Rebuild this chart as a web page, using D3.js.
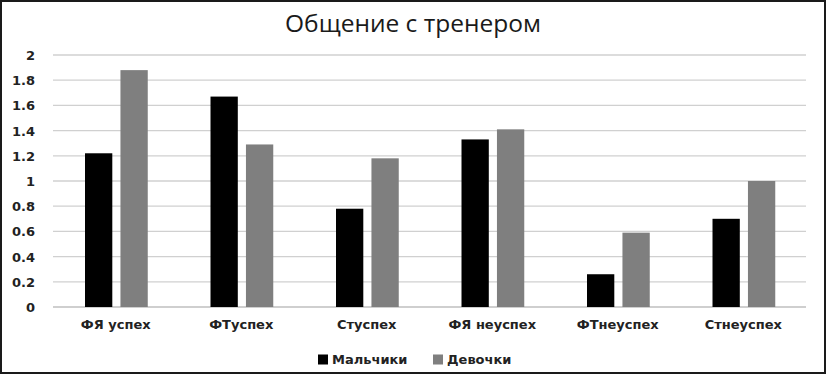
<!DOCTYPE html>
<html>
<head>
<meta charset="utf-8">
<script src="https://cdn.jsdelivr.net/npm/d3@7"></script>
<style>
  body { margin: 0; background: #fff; }
  svg { display: block; font-family: "DejaVu Sans", sans-serif; }
</style>
</head>
<body>
<div id="vis"></div>
<script>
const categories = ["ФЯ успех", "ФТуспех", "Стуспех", "ФЯ неуспех", "ФТнеуспех", "Стнеуспех"];
const seriesNames = ["Мальчики", "Девочки"];
const boys = [1.22, 1.67, 0.78, 1.33, 0.26, 0.70];
const girls = [1.88, 1.29, 1.18, 1.41, 0.59, 1.00];
const yTicks = [0, 0.2, 0.4, 0.6, 0.8, 1, 1.2, 1.4, 1.6, 1.8, 2];
const colors = ["#000000", "#7f7f7f"];

const WIDTH = 828;
const HEIGHT = 376;
const MARGINS = { TOP: 55, RIGHT: 22, BOTTOM: 69, LEFT: 53 };

const svg = d3.select("#vis").append("svg")
  .attr("width", WIDTH)
  .attr("height", HEIGHT);

svg.append("rect")
  .attr("x", 1).attr("y", 1)
  .attr("width", WIDTH - 4).attr("height", HEIGHT - 4)
  .attr("fill", "#fff")
  .attr("stroke", "#1a1a1a")
  .attr("stroke-width", 2);

const width = WIDTH - MARGINS.LEFT - MARGINS.RIGHT;
const height = HEIGHT - MARGINS.TOP - MARGINS.BOTTOM;

const g = svg.append("g")
  .attr("transform", `translate(${MARGINS.LEFT}, ${MARGINS.TOP})`);

const escalaX = d3.scaleBand()
  .domain(categories)
  .range([0, width]);

const escalaSerie = d3.scaleBand()
  .domain(seriesNames)
  .range([escalaX.bandwidth() * 0.255, escalaX.bandwidth() * 0.755])
  .paddingInner(0.23);

const escalaY = d3.scaleLinear()
  .domain([0, 2])
  .range([height, 0]);

// lineas de grilla
g.append("g")
  .selectAll("line")
  .data(yTicks)
  .join("line")
  .attr("x1", 0)
  .attr("x2", width)
  .attr("y1", d => escalaY(d))
  .attr("y2", d => escalaY(d))
  .attr("stroke", d => d === 0 ? "#bfbfbf" : "#d0d0d0")
  .attr("stroke-width", 1.3);

// eje Y
const ejeY = d3.axisLeft(escalaY)
  .tickValues(yTicks)
  .tickSize(0)
  .tickPadding(0)
  .tickFormat(d => String(d));

g.append("g")
  .attr("transform", "translate(-18, 0)")
  .call(ejeY)
  .call(s => s.select(".domain").remove())
  .selectAll("text")
  .attr("fill", "#222")
  .attr("font-family", "DejaVu Sans")
  .attr("font-size", 13)
  .attr("font-weight", "bold")
  .attr("text-anchor", "end")
  .attr("dy", "0.35em");

// eje X
const ejeX = d3.axisBottom(escalaX).tickSize(0).tickPadding(13);
g.append("g")
  .attr("transform", `translate(0, ${height})`)
  .call(ejeX)
  .call(s => s.select(".domain").remove())
  .selectAll("text")
  .attr("fill", "#222")
  .attr("font-family", "DejaVu Sans")
  .attr("font-size", 13)
  .attr("font-weight", "bold");

// barras
const datos = categories.map((c, i) => ({ cat: c, values: [boys[i], girls[i]] }));

g.append("g")
  .selectAll("g")
  .data(datos)
  .join("g")
  .attr("transform", d => `translate(${escalaX(d.cat)}, 0)`)
  .selectAll("rect")
  .data(d => d.values.map((v, j) => ({ serie: seriesNames[j], value: v, j })))
  .join("rect")
  .attr("x", d => escalaSerie(d.serie))
  .attr("width", escalaSerie.bandwidth())
  .attr("y", d => escalaY(d.value))
  .attr("height", d => height - escalaY(d.value))
  .attr("fill", d => colors[d.j]);

// titulo
svg.append("text")
  .attr("x", 413)
  .attr("y", 32)
  .attr("text-anchor", "middle")
  .attr("font-family", "Open Sans")
  .attr("font-size", 24.5)
  .attr("fill", "#1a1a1a")
  .text("Общение с тренером");

// leyenda
const legendX = [318, 433];
const leyenda = svg.append("g")
  .selectAll("g")
  .data(seriesNames)
  .join("g")
  .attr("transform", (d, i) => `translate(${legendX[i]}, 359)`);

leyenda.append("rect")
  .attr("x", 0).attr("y", -4.5)
  .attr("width", 10).attr("height", 10)
  .attr("fill", (d, i) => colors[i]);

leyenda.append("text")
  .attr("x", 14)
  .attr("dy", "0.38em")
  .attr("font-size", 13)
  .attr("font-weight", "bold")
  .attr("fill", "#222")
  .text(d => d);
</script>
</body>
</html>
